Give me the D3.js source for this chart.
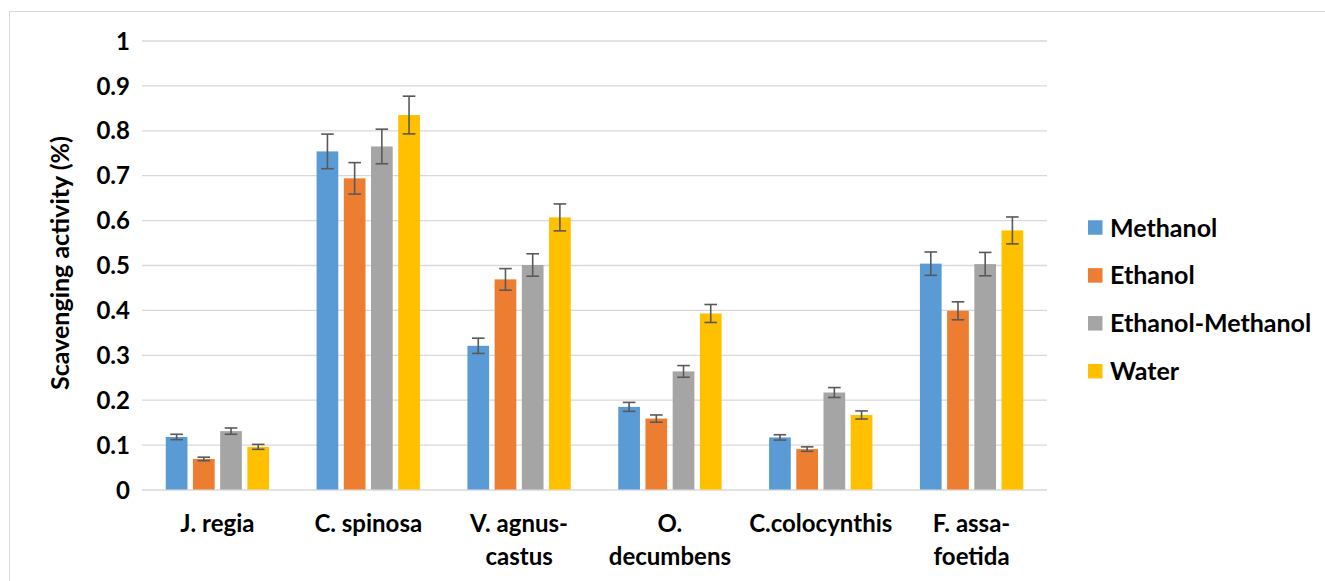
<!DOCTYPE html>
<html>
<head>
<meta charset="utf-8">
<script src="https://cdn.jsdelivr.net/npm/d3@7"></script>
<style>
  html, body { margin: 0; padding: 0; background: #ffffff; }
  svg { display: block; font-family: Lato, "Open Sans", sans-serif; font-weight: 700; }
</style>
</head>
<body>
<svg id="chart" width="1325" height="581"></svg>
<script>
// ---- data ----
const categories = ["J. regia", "C. spinosa", "V. agnus-castus", "O. decumbens", "C.colocynthis", "F. assa-foetida"];
const categoryLines = [["J. regia"], ["C. spinosa"], ["V. agnus-", "castus"], ["O.", "decumbens"], ["C.colocynthis"], ["F. assa-", "foetida"]];
const seriesNames = ["Methanol", "Ethanol", "Ethanol-Methanol", "Water"];
const methanol       = [0.117, 0.753, 0.320, 0.184, 0.116, 0.503];
const ethanol        = [0.068, 0.693, 0.468, 0.158, 0.090, 0.398];
const ethanolMethanol= [0.130, 0.764, 0.500, 0.263, 0.216, 0.502];
const water          = [0.095, 0.834, 0.606, 0.392, 0.166, 0.577];
const methanolErr       = [0.006, 0.0385, 0.017, 0.010, 0.006, 0.026];
const ethanolErr        = [0.004, 0.035, 0.024, 0.008, 0.005, 0.020];
const ethanolMethanolErr= [0.007, 0.0385, 0.025, 0.013, 0.011, 0.026];
const waterErr          = [0.0055, 0.042, 0.030, 0.020, 0.009, 0.030];
const yTicks = [0, 0.1, 0.2, 0.3, 0.4, 0.5, 0.6, 0.7, 0.8, 0.9, 1];
const yTitle = "Scavenging activity (%)";

const seriesValues = [methanol, ethanol, ethanolMethanol, water];
const seriesErrors = [methanolErr, ethanolErr, ethanolMethanolErr, waterErr];
const colors = ["#5b9bd5", "#ed7d31", "#a5a5a5", "#ffc000"];

// ---- layout ----
const svg = d3.select("#chart");
const plot = { left: 142, right: 1047, top: 40.5, bottom: 489.5 };

// chart frame
svg.append("rect")
  .attr("x", 9.5).attr("y", 11.5)
  .attr("width", 1340).attr("height", 600)
  .attr("fill", "none").attr("stroke", "#d9d9d9").attr("stroke-width", 1);

const x = d3.scaleBand().domain(categories).range([plot.left, plot.right]).paddingInner(0).paddingOuter(0);
const xs = d3.scaleBand().domain(seriesNames).range([0, x.bandwidth()]).paddingInner(0.202).paddingOuter(0.873);
const y = d3.scaleLinear().domain([0, 1]).range([plot.bottom, plot.top]);

// gridlines + y tick labels
const yAxis = d3.axisLeft(y).tickValues(yTicks).tickSize(-(plot.right - plot.left)).tickPadding(12)
  .tickFormat(d => d3.format("")(+d.toFixed(1)));
const gy = svg.append("g").attr("transform", `translate(${plot.left},0)`).call(yAxis);
gy.select(".domain").remove();
gy.selectAll(".tick line").attr("stroke", "#d9d9d9").attr("stroke-width", 1.3);
gy.selectAll(".tick text")
  .attr("x", 130 - plot.left)
  .attr("fill", "#000").style("font-size", "24px").style("font-family", "Lato, sans-serif").style("font-weight", 700)
  .attr("dy", "0.36em");

// bars
const rows = [];
seriesNames.forEach((s, si) => {
  categories.forEach((c, ci) => {
    rows.push({ s, si, c, v: seriesValues[si][ci], e: seriesErrors[si][ci] });
  });
});

svg.append("g").selectAll("rect").data(rows).join("rect")
  .attr("x", d => x(d.c) + xs(d.s))
  .attr("y", d => y(d.v))
  .attr("width", xs.bandwidth())
  .attr("height", d => y(0) - y(d.v))
  .attr("fill", d => colors[d.si]);

// error bars
const eb = svg.append("g").attr("stroke", "#595959").attr("stroke-width", 1.6).attr("fill", "none");
const capW = 6.3;
rows.forEach(d => {
  const cx = x(d.c) + xs(d.s) + xs.bandwidth() / 2;
  const y1 = y(d.v + d.e), y2 = y(d.v - d.e);
  eb.append("line").attr("x1", cx).attr("x2", cx).attr("y1", y1).attr("y2", y2);
  eb.append("line").attr("x1", cx - capW).attr("x2", cx + capW).attr("y1", y1).attr("y2", y1);
  eb.append("line").attr("x1", cx - capW).attr("x2", cx + capW).attr("y1", y2).attr("y2", y2);
});

// x axis labels
const gx = svg.append("g");
categories.forEach((c, ci) => {
  const t = gx.append("text")
    .attr("x", x(c) + x.bandwidth() / 2)
    .attr("y", 532)
    .attr("text-anchor", "middle")
    .attr("fill", "#000")
    .style("font-size", "24px");
  categoryLines[ci].forEach((ln, li) => {
    t.append("tspan").attr("x", x(c) + x.bandwidth() / 2).attr("y", 532 + li * 33).text(ln);
  });
});

// y title
svg.append("text")
  .attr("transform", `translate(69,263) rotate(-90)`)
  .attr("text-anchor", "middle")
  .attr("fill", "#000")
  .style("font-size", "25px")
  .text(yTitle);

// legend
const lg = svg.append("g");
seriesNames.forEach((s, si) => {
  const cy = 227.5 + si * 47.9;
  lg.append("rect").attr("x", 1088).attr("y", cy - 7.25).attr("width", 14.5).attr("height", 14.5).attr("fill", colors[si]);
  lg.append("text").attr("x", 1110).attr("y", cy).attr("dy", "0.36em").attr("fill", "#000")
    .style("font-size", "25px").text(s);
});
</script>
</body>
</html>
